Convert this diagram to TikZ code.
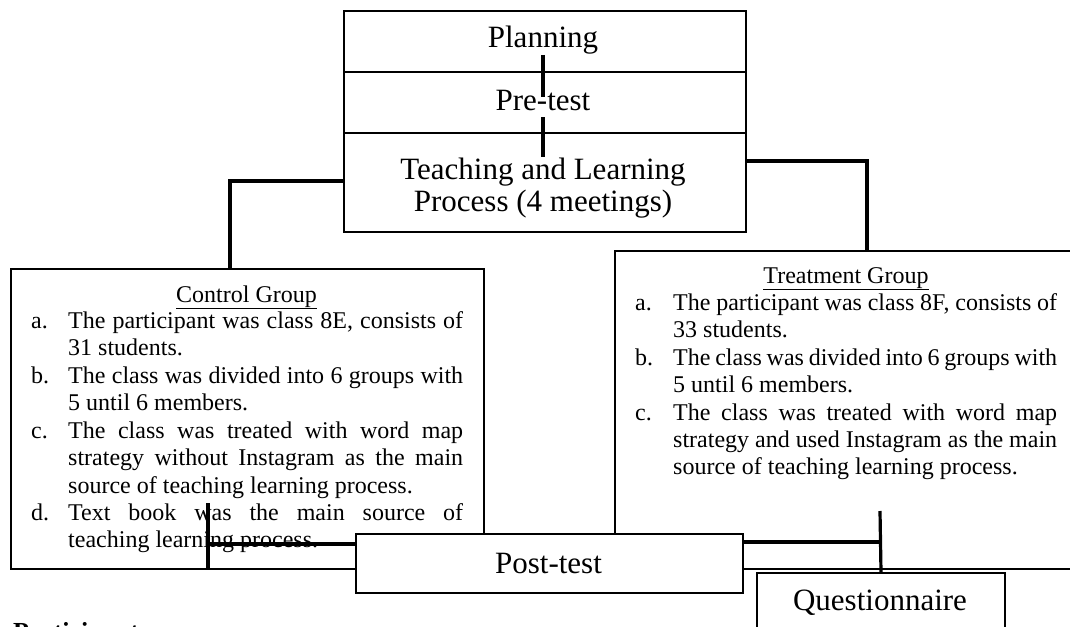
\documentclass[tikz,border=0pt]{standalone}
\usepackage{fontspec}
\setmainfont{Liberation Serif}
\tikzset{
  boxed/.style={draw=black, line width=2pt, fill=white, inner sep=0pt, anchor=north west},
  conn/.style={line width=3.2pt},
  bigtxt/.style={font=\fontsize{31}{32}\selectfont, inner sep=0pt, anchor=base},
  grp/.style={font=\fontsize{24}{27}\selectfont, inner sep=0pt, anchor=base west},
  grptitle/.style={font=\fontsize{24}{27}\selectfont, inner sep=0pt, anchor=base},
}
\begin{document}
\begin{tikzpicture}[x=1pt,y=-1pt]
\path[use as bounding box] (0,0) rectangle (1070,626);
\clip (0,0) rectangle (1070,626);
% group boxes
\node[boxed, minimum width=473pt, minimum height=300pt] (ctrl) at (10,268) {};
\node[boxed, minimum width=464pt, minimum height=318pt] (treat) at (614,250) {};
% top stack
\node[boxed, minimum width=402pt, minimum height=61pt] (plan) at (343,10) {};
\node[boxed, minimum width=402pt, minimum height=61pt] (pre) at (343,71) {};
\node[boxed, minimum width=402pt, minimum height=99pt] (teach) at (343,132) {};
\node[bigtxt] (tplan) at (543,48) {Planning};
\node[bigtxt] (tpre) at (543,110) {Pre-test};
\node[bigtxt] (tteach1) at (543,179) {Teaching and Learning};
\node[bigtxt] (tteach2) at (543,211) {Process (4 meetings)};
% control group text
\node[grptitle] (ctitle) at (246.5,302) {\underline{Control Group}};
\node[grp] (ca) at (31,328) {a.};
\node[grp] (cb) at (31,383) {b.};
\node[grp] (cc) at (31,438) {c.};
\node[grp] (cd) at (31,520) {d.};
\node[grp] (c1) at (68,328) {\makebox[395pt][s]{The participant was class 8E, consists of}};
\node[grp] (c2) at (68,355) {31 students.};
\node[grp] (c3) at (68,383) {\makebox[395pt][s]{The class was divided into 6 groups with}};
\node[grp] (c4) at (68,410) {5 until 6 members.};
\node[grp] (c5) at (68,438) {\makebox[395pt][s]{The class was treated with word map}};
\node[grp] (c6) at (68,465) {\makebox[395pt][s]{strategy without Instagram as the main}};
\node[grp] (c7) at (68,493) {source of teaching learning process.};
\node[grp] (c8) at (68,520) {\makebox[395pt][s]{Text book was the main source of}};
\node[grp] (c9) at (68,547) {teaching learning process.};
% treatment group text
\node[grptitle] (ttitle) at (846,283) {\underline{Treatment Group}};
\node[grp] (ta) at (635,310) {a.};
\node[grp] (tb) at (635,365) {b.};
\node[grp] (tc) at (635,420) {c.};
\node[grp] (t1) at (673,310) {\makebox[384pt][s]{The participant was class 8F, consists of}};
\node[grp] (t2) at (673,337) {33 students.};
\node[grp] (t3) at (673,365) {\makebox[384pt][s]{The class was divided into 6 groups with}};
\node[grp] (t4) at (673,392) {5 until 6 members.};
\node[grp] (t5) at (673,420) {\makebox[384pt][s]{The class was treated with word map}};
\node[grp] (t6) at (673,447) {\makebox[384pt][s]{strategy and used Instagram as the main}};
\node[grp] (t7) at (673,474) {source of teaching learning process.};
% lower boxes
\node[boxed, minimum width=387pt, minimum height=59pt] (post) at (355,533) {};
\node[bigtxt] (tpost) at (548.5,573) {Post-test};
\node[boxed, minimum width=248pt, minimum height=60pt] (quest) at (756,572) {};
\node[bigtxt] (tquest) at (880,610) {Questionnaire};
\node[font=\bfseries\fontsize{26}{28}\selectfont, anchor=base west, inner sep=0pt] (part) at (13,640) {Participants};
% connectors
\draw[conn] ([xshift=-2pt,yshift=18pt]plan.south) -- ([xshift=-2pt,yshift=-26pt]pre.north);
\draw[conn] ([xshift=-2pt,yshift=17pt]pre.south) -- ([xshift=-2pt,yshift=-25pt]teach.north);
\draw[conn] ([yshift=1.5pt]teach.west) -| ([xshift=-17.5pt]ctrl.north);
\draw[conn] ([yshift=21.5pt]teach.east) -| ([xshift=20pt]treat.north);
\coordinate (cp) at (208,503);
\draw[conn] (cp) -- (cp |- ctrl.south);
\draw[conn] ([yshift=19.5pt]post.west) -| (cp);
\coordinate (qp) at (880,511);
\draw[conn] (qp) -- (quest.north);
\draw[conn] ([yshift=21.5pt]post.east) -- ([yshift=21.5pt]post.east -| qp);
\end{tikzpicture}
\end{document}
